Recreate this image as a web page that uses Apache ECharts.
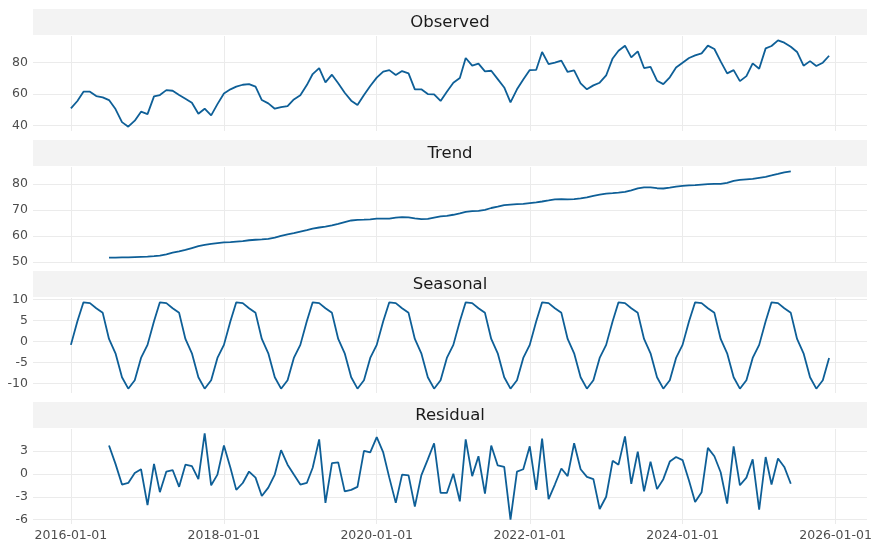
<!DOCTYPE html>
<html>
<head>
<meta charset="utf-8">
<script src="https://cdn.jsdelivr.net/npm/echarts@6/dist/echarts.min.js"></script>
<style>
  html, body { margin: 0; padding: 0; background: #fff; }
  #chart { width: 880px; height: 550px; }
</style>
</head>
<body>
<div id="chart"></div>
<script>
// monthly series, 2016-01 .. 2025-12
const startYear = 2016
const monthCount = 120

const observed = [
  50.8, 55.5, 61.4, 61.4, 58.6, 57.8, 56.1, 50.4, 42.1, 39.2, 43.0, 48.7,
  47.2, 58.4, 59.3, 62.4, 62.0, 59.3, 56.9, 54.4, 47.4, 50.6, 46.4, 53.5,
  60.3, 62.9, 64.6, 65.8, 66.2, 64.6, 56.1, 54.0, 50.6, 51.6, 52.3, 56.5,
  59.1, 65.6, 72.6, 76.4, 67.3, 72.2, 66.7, 60.7, 55.7, 52.9, 59.3, 65.0,
  70.3, 74.1, 75.1, 72.0, 74.5, 73.0, 62.9, 62.9, 59.9, 59.7, 55.5, 61.4,
  67.1, 70.1, 82.8, 77.9, 79.2, 74.3, 74.7, 69.4, 64.1, 54.6, 62.9, 69.2,
  75.1, 75.3, 86.6, 78.9, 79.8, 81.1, 73.9, 74.9, 66.7, 62.9, 65.4, 67.1,
  71.7, 82.5, 87.4, 90.6, 83.2, 87.0, 76.4, 77.2, 68.4, 66.2, 70.5, 76.8,
  79.8, 82.8, 84.4, 85.7, 90.6, 88.5, 80.6, 73.0, 75.1, 68.1, 71.3, 79.4,
  76.0, 88.9, 90.4, 94.0, 92.5, 89.9, 86.6, 77.9, 80.8, 77.7, 79.8, 84.2
]

const trend = [
  null, null, null, null, null, null, 51.6, 51.6, 51.7, 51.7, 51.8, 51.9,
  52.0, 52.2, 52.4, 52.9, 53.5, 54.0, 54.6, 55.3, 56.0, 56.5, 56.9, 57.2,
  57.5, 57.6, 57.8, 58.0, 58.3, 58.5, 58.6, 58.8, 59.3, 60.0, 60.6, 61.0,
  61.6, 62.2, 62.8, 63.2, 63.5, 64.0, 64.6, 65.3, 65.9, 66.1, 66.2, 66.3,
  66.6, 66.6, 66.6, 67.0, 67.2, 67.1, 66.7, 66.4, 66.5, 67.0, 67.5, 67.7,
  68.1, 68.6, 69.2, 69.5, 69.6, 70.0, 70.7, 71.2, 71.8, 72.0, 72.2, 72.3,
  72.6, 72.9, 73.2, 73.6, 74.0, 74.1, 74.0, 74.1, 74.4, 74.8, 75.4, 75.8,
  76.2, 76.4, 76.6, 76.9, 77.5, 78.2, 78.6, 78.6, 78.3, 78.2, 78.5, 78.9,
  79.2, 79.4, 79.5, 79.7, 79.9, 80.0, 80.0, 80.4, 81.1, 81.5, 81.7, 81.9,
  82.3, 82.7, 83.2, 83.8, 84.4, 84.8, null, null, null, null, null, null
]

const seasonal = [
  -0.8, 4.8, 9.3, 9.1, 7.9, 6.8, 0.6, -2.8, -8.5, -11.2, -9.2, -3.9,
  -0.8, 4.8, 9.3, 9.1, 7.9, 6.8, 0.6, -2.8, -8.5, -11.2, -9.2, -3.9,
  -0.8, 4.8, 9.3, 9.1, 7.9, 6.8, 0.6, -2.8, -8.5, -11.2, -9.2, -3.9,
  -0.8, 4.8, 9.3, 9.1, 7.9, 6.8, 0.6, -2.8, -8.5, -11.2, -9.2, -3.9,
  -0.8, 4.8, 9.3, 9.1, 7.9, 6.8, 0.6, -2.8, -8.5, -11.2, -9.2, -3.9,
  -0.8, 4.8, 9.3, 9.1, 7.9, 6.8, 0.6, -2.8, -8.5, -11.2, -9.2, -3.9,
  -0.8, 4.8, 9.3, 9.1, 7.9, 6.8, 0.6, -2.8, -8.5, -11.2, -9.2, -3.9,
  -0.8, 4.8, 9.3, 9.1, 7.9, 6.8, 0.6, -2.8, -8.5, -11.2, -9.2, -3.9,
  -0.8, 4.8, 9.3, 9.1, 7.9, 6.8, 0.6, -2.8, -8.5, -11.2, -9.2, -3.9,
  -0.8, 4.8, 9.3, 9.1, 7.9, 6.8, 0.6, -2.8, -8.5, -11.2, -9.2, -3.9
]

const residual = [
  null, null, null, null, null, null, 3.7, 1.3, -1.4, -1.2, 0.1, 0.6,
  -4.1, 1.3, -2.4, 0.3, 0.5, -1.7, 1.2, 1.0, -0.7, 5.3, -1.5, -0.1,
  3.7, 0.8, -2.1, -1.2, 0.3, -0.5, -2.9, -1.8, -0.1, 3.1, 1.2, -0.1,
  -1.4, -1.2, 0.8, 4.5, -3.8, 1.4, 1.5, -2.3, -2.1, -1.7, 3.0, 2.8,
  4.8, 2.8, -0.5, -3.8, -0.1, -0.2, -4.3, -0.2, 1.9, 4.0, -2.5, -2.5,
  0.0, -3.6, 4.5, -0.3, 2.3, -2.6, 3.7, 1.1, 0.9, -6.0, 0.3, 0.6,
  3.6, -2.1, 4.6, -3.3, -1.4, 0.7, -0.3, 4.0, 0.6, -0.4, -0.7, -4.6,
  -3.0, 1.7, 1.2, 4.9, -1.3, 2.9, -2.3, 1.6, -2.0, -0.7, 1.6, 2.2,
  1.8, -0.9, -3.7, -2.4, 3.4, 2.3, 0.2, -3.9, 3.6, -1.5, -0.5, 1.9,
  -4.7, 2.2, -1.4, 2.0, 0.9, -1.3, null, null, null, null, null, null
]

const panelTitles = ['Observed', 'Trend', 'Seasonal', 'Residual']
const yTicks = [
  [40, 60, 80],
  [50, 60, 70, 80],
  [-10, -5, 0, 5, 10],
  [-6, -3, 0, 3]
]
const xTickYears = [2016, 2018, 2020, 2022, 2024, 2026]

const dates = []
for (let i = 0; i < monthCount; i++) {
  dates.push(new Date(startYear, i, 1).getTime())
}
const xTicks = xTickYears.map(y => new Date(y, 0, 1).getTime())

// 5% padding like matplotlib autoscale
function padRange (arr) {
  const v = arr.filter(d => d !== null)
  const lo = Math.min.apply(null, v)
  const hi = Math.max.apply(null, v)
  const p = (hi - lo) * 0.05
  return [lo - p, hi + p]
}
const xSpan = dates[dates.length - 1] - dates[0]
const xMin = dates[0] - xSpan * 0.05
const xMax = dates[dates.length - 1] + xSpan * 0.05

function fmtDate (val) {
  const d = new Date(val)
  const m = String(d.getMonth() + 1).padStart(2, '0')
  const dd = String(d.getDate()).padStart(2, '0')
  return d.getFullYear() + '-' + m + '-' + dd
}

const seriesData = [observed, trend, seasonal, residual]
const lineColor = '#0e5f97'
const gridColor = '#ebebeb'
const labelColor = '#4d4d4d'
const fontFamily = 'DejaVu Sans'

const plotTops = [36, 167, 298, 429]
const plotHeight = 95
const gridLeft = 33
const gridRight = 13

const grids = []
const xAxes = []
const yAxes = []
const series = []
const graphics = []

plotTops.forEach((top, k) => {
  grids.push({ left: gridLeft, right: gridRight, top: top, height: plotHeight })
  const isLast = k === plotTops.length - 1
  // value axis holding timestamps, so custom tick positions work
  xAxes.push({
    type: 'value',
    gridIndex: k,
    min: xMin,
    max: xMax,
    axisLine: { show: false },
    axisTick: { show: false, customValues: xTicks },
    splitLine: { show: true, lineStyle: { color: gridColor, width: 1 } },
    axisLabel: {
      show: isLast,
      customValues: xTicks,
      color: labelColor,
      fontSize: 12.5,
      fontFamily: fontFamily,
      margin: 5,
      formatter: fmtDate
    }
  })
  const r = padRange(seriesData[k])
  yAxes.push({
    type: 'value',
    gridIndex: k,
    min: r[0],
    max: r[1],
    axisLine: { show: false },
    axisTick: { show: false, customValues: yTicks[k] },
    splitLine: { show: true, lineStyle: { color: gridColor, width: 1 } },
    axisLabel: {
      customValues: yTicks[k],
      color: labelColor,
      fontSize: 12.5,
      fontFamily: fontFamily,
      margin: 5
    }
  })
  series.push({
    type: 'line',
    name: panelTitles[k],
    xAxisIndex: k,
    yAxisIndex: k,
    data: dates.map((d, i) => [d, seriesData[k][i]]),
    showSymbol: false,
    connectNulls: false,
    lineStyle: { color: lineColor, width: 1.8 },
    itemStyle: { color: lineColor }
  })
  // header strip
  graphics.push({
    type: 'rect',
    shape: { x: gridLeft, y: top - 27, width: 880 - gridLeft - gridRight, height: 26 },
    style: { fill: '#f3f3f3' },
    silent: true
  })
  graphics.push({
    type: 'text',
    x: (gridLeft + 880 - gridRight) / 2,
    y: top - 13,
    style: {
      text: panelTitles[k],
      fill: '#1a1a1a',
      font: '16.5px "DejaVu Sans"',
      textAlign: 'center',
      textVerticalAlign: 'middle'
    },
    silent: true
  })
})

const chart = echarts.init(document.getElementById('chart'))
chart.setOption({
  animation: false,
  backgroundColor: '#fff',
  grid: grids,
  xAxis: xAxes,
  yAxis: yAxes,
  series: series,
  graphic: graphics
})
</script>
</body>
</html>
